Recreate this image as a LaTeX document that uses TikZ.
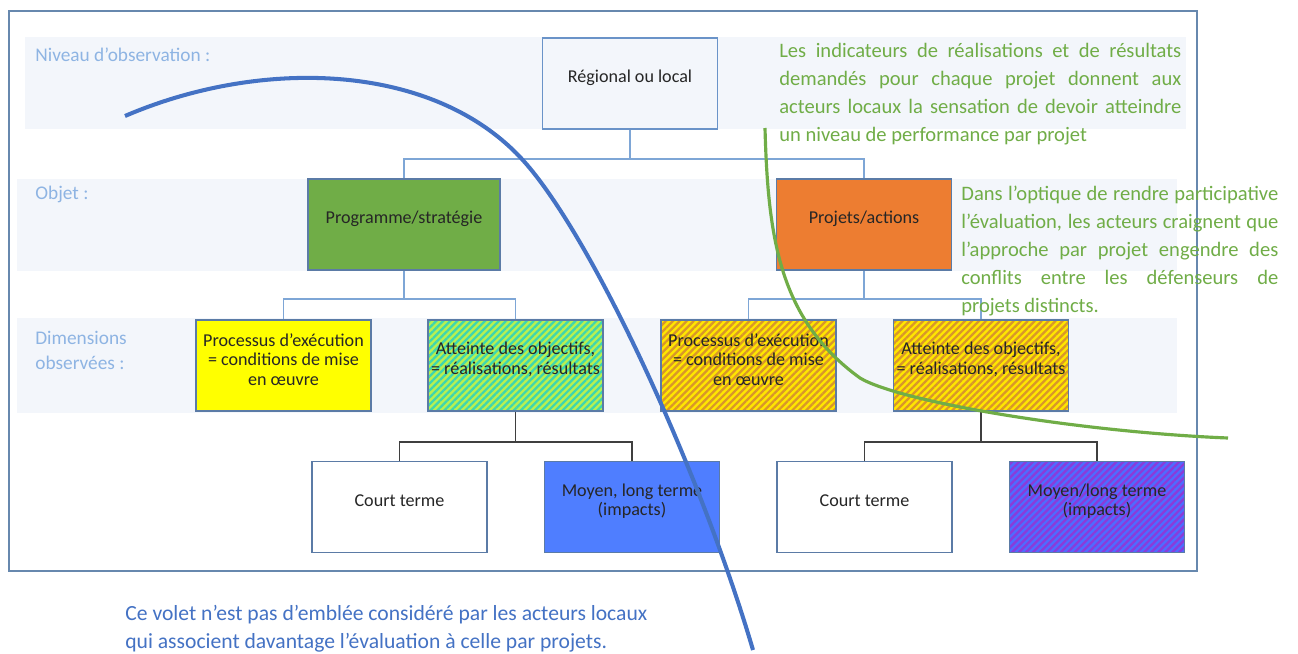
\documentclass[tikz,border=0pt]{standalone}
\usepackage{fontspec}
\setmainfont{Carlito}
\usetikzlibrary{patterns.meta}
\definecolor{framec}{HTML}{6788AE}
\definecolor{bandc}{HTML}{F3F6FB}
\definecolor{lblc}{HTML}{8EB4E3}
\definecolor{edgec}{HTML}{5B7BA6}
\definecolor{regc}{HTML}{6A93C8}
\definecolor{linkc}{HTML}{7EA6D6}
\definecolor{darkc}{HTML}{3F3F3F}
\definecolor{txtc}{HTML}{262626}
\definecolor{vert}{HTML}{70AD47}
\definecolor{bleu}{HTML}{4472C4}
\definecolor{orange}{HTML}{ED7D31}
\definecolor{jaune}{HTML}{FFFF00}
\definecolor{bleuvif}{HTML}{4F7EFF}
\definecolor{vertclair}{HTML}{B8F050}
\definecolor{turquoise}{HTML}{3DD6B0}
\definecolor{jauneor}{HTML}{FFE600}
\definecolor{ocre}{HTML}{D9962A}
\definecolor{bleuind}{HTML}{4F6BFF}
\definecolor{violet}{HTML}{8B3BD9}

\begin{document}
\begin{tikzpicture}[x=0.02cm,y=-0.02cm,
  band/.style={fill=bandc},
  lvl/.style={anchor=west,text=lblc,font=\fontsize{11}{14.2}\selectfont,align=left,inner sep=0pt},
  celltext/.style={align=center,text=txtc,font=\fontsize{10.3}{11.1}\selectfont,inner sep=0pt,yshift=3.4pt},
  cell/.style={draw=edgec,line width=1.1pt,minimum width=3.5cm,minimum height=1.82cm,label={[celltext]center:#1}},
  stripes/.style 2 args={preaction={fill=#1},pattern={Lines[angle=45,distance=2.8pt,line width=1.3pt]},pattern color=#2},
  link/.style={draw=linkc,line width=0.8pt},
  sublink/.style={draw=darkc,line width=0.8pt},
  note/.style={anchor=north west,align=left,inner sep=0pt,font=\fontsize{11.7}{15.9}\selectfont}]
  \useasboundingbox (0,0) rectangle (1298,653);
  \fill[white] (0,0) rectangle (1298,653);
  \draw[framec,line width=0.8pt] (9,11) rectangle (1197,571);
  \fill[band] (25,37) rectangle (1186,129);
  \fill[band] (17,179) rectangle (1177,271);
  \fill[band] (17,318) rectangle (1177,413);

  \node[lvl] (niv) at (35,55) {Niveau d’observation :};
  \node[lvl] (obj) at (35,194) {Objet :};
  \node[lvl] (dim) at (35,350) {Dimensions\\observées :};

  \node[cell={Régional ou local},draw=regc] (reg) at (630,83.5) {};
  \node[cell={Programme/stratégie},minimum width=3.84cm,fill=vert] (prog) at (404,224.5) {};
  \node[cell={Projets/actions},fill=orange] (proj) at (864,224.5) {};

  \node[cell={{Processus d’exécution\\= conditions de mise\\en œuvre}},fill=jaune] (pl) at (283.5,365.5) {};
  \node[cell={{Atteinte des objectifs,\\= réalisations, résultats}},stripes={vertclair}{turquoise}] (al) at (515.5,365.5) {};
  \node[cell={{Processus d’exécution\\= conditions de mise\\en œuvre}},stripes={jauneor}{ocre}] (pr) at (748.5,365.5) {};
  \node[cell={{Atteinte des objectifs,\\= réalisations, résultats}},stripes={jauneor}{ocre}] (ar) at (981,365.5) {};

  \node[cell={Court terme}] (cl) at (399.5,507) {};
  \node[cell={{Moyen, long terme\\(impacts)}},fill=bleuvif] (ml) at (632,507) {};
  \node[cell={Court terme}] (cr) at (864.5,507) {};
  \node[cell={{Moyen/long terme\\(impacts)}},stripes={bleuind}{violet}] (mr) at (1097,507) {};

  \draw[link] (reg.south) -- ++(0,29) -| (prog.north);
  \draw[link] (reg.south) -- ++(0,29) -| (proj.north);
  \draw[link] (prog.south) -- ++(0,28) -| (pl.north);
  \draw[link] (prog.south) -- ++(0,28) -| (al.north);
  \draw[link] (proj.south) -- ++(0,28) -| (pr.north);
  \draw[link] (proj.south) -- ++(0,28) -| (ar.north);
  \draw[sublink] (al.south) -- ++(0,30) -| (cl.north);
  \draw[sublink] (al.south) -- ++(0,30) -| (ml.north);
  \draw[sublink] (ar.south) -- ++(0,30) -| (cr.north);
  \draw[sublink] (ar.south) -- ++(0,30) -| (mr.north);

  \node[note,text=vert] (ind) at (779,43) {%
    \makebox[8.04cm][s]{Les indicateurs de réalisations et de résultats}\\
    \makebox[8.04cm][s]{demandés pour chaque projet donnent aux}\\
    \makebox[8.04cm][s]{acteurs locaux la sensation de devoir atteindre}\\
    un niveau de performance par projet};
  \node[note,text=vert] (part) at (961,186) {%
    \makebox[6.34cm][s]{Dans l’optique de rendre participative}\\
    \makebox[6.34cm][s]{l’évaluation, les acteurs craignent que}\\
    \makebox[6.34cm][s]{l’approche par projet engendre des}\\
    \makebox[6.34cm][s]{conflits entre les défenseurs de}\\
    projets distincts.};
  \node[note,text=bleu,font=\fontsize{12.3}{15.9}\selectfont] (volet) at (125,605) {%
    Ce volet n’est pas d’emblée considéré par les acteurs locaux\\
    qui associent davantage l’évaluation à celle par projets.};

  \draw[bleu,line width=2.3pt] (125,116) .. controls (260,58) and (430,62) .. (520,157)
    .. controls (590,231) and (700,470) .. (753,650);
  \draw[vert,line width=1.8pt] (765,128) .. controls (768,240) and (780,320) .. (860,378)
    .. controls (900,402) and (1080,432) .. (1228,438);
\end{tikzpicture}
\end{document}
